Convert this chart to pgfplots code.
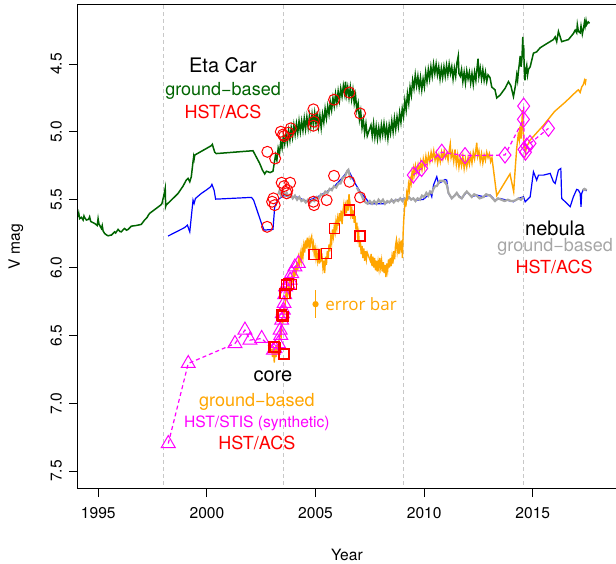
\documentclass[border=0pt]{standalone}
\usepackage{fontspec}
\setmainfont{TeX Gyre Heros}
\newfontfamily\ebfont{Open Sans}
\usepackage{pgfplots}
\pgfplotsset{compat=1.18}
\definecolor{etagreen}{HTML}{006400}
\definecolor{nebgray}{HTML}{A6A6A6}
\definecolor{periline}{HTML}{C8C8C8}
\definecolor{coreorange}{HTML}{FFA500}
\definecolor{stismag}{HTML}{FF00FF}
\definecolor{acsred}{HTML}{FF0000}
\definecolor{nebblue}{HTML}{0000FF}

\begin{document}
\begin{tikzpicture}
\begin{axis}[
  scale only axis, width=269pt, height=241.5pt,
  xmin=1994.065, xmax=2018.83, ymin=4.065, ymax=7.625,
  y dir=reverse,
  axis line style={draw=none},
  xtick={1995,2000,2005,2010,2015},
  ytick={4.5,5.0,5.5,6.0,6.5,7.0,7.5},
  xtick pos=bottom, ytick pos=left,
  tick align=outside, major tick length=4.5pt,
  tick style={black, line width=0.5pt},
  /pgf/number format/assume math mode=true,
  /pgf/number format/1000 sep={},
  tick label style={font=\fontsize{7.8}{9}\selectfont},
  xticklabel style={yshift=-1.5pt},
  yticklabel style={rotate=90, anchor=south,
    /pgf/number format/.cd, fixed, fixed zerofill, precision=1},
  clip=false,
]
% periastron passages
\addplot[periline, line width=0.6pt, dash pattern=on 2pt off 1.5pt] coordinates {(1998.0,4.065) (1998.0,7.625)};
\addplot[periline, line width=0.6pt, dash pattern=on 2pt off 1.5pt] coordinates {(2003.52,4.065) (2003.52,7.625)};
\addplot[periline, line width=0.6pt, dash pattern=on 2pt off 1.5pt] coordinates {(2009.05,4.065) (2009.05,7.625)};
\addplot[periline, line width=0.6pt, dash pattern=on 2pt off 1.5pt] coordinates {(2014.58,4.065) (2014.58,7.625)};

% Eta Car, ground-based
\addplot[etagreen, line width=0.75pt] coordinates {
(1994.07,5.626) (1994.10,5.60) (1994.14,5.64) (1994.22,5.63) (1994.30,5.650) (1994.34,5.62)
(1994.37,5.631) (1994.45,5.650) (1994.55,5.645) (1994.60,5.626) (1994.65,5.66) (1994.68,5.663)
(1994.83,5.675) (1994.95,5.69) (1994.99,5.640) (1995.03,5.68) (1995.06,5.687) (1995.10,5.70)
(1995.14,5.712) (1995.18,5.69) (1995.22,5.73) (1995.29,5.749) (1995.38,5.76) (1995.45,5.766)
(1995.55,5.762) (1995.60,5.761) (1995.75,5.737) (1995.80,5.745) (1995.91,5.719) (1996.00,5.735)
(1996.06,5.737) (1996.15,5.72) (1996.21,5.712) (1996.30,5.725) (1996.37,5.719) (1996.52,5.695)
(1996.75,5.690) (1996.98,5.682) (1997.13,5.650) (1997.25,5.63) (1997.30,5.615) (1997.36,5.601)
(1997.52,5.582) (1997.67,5.564) (1997.87,5.540) (1997.93,5.528) (1998.00,5.48) (1998.04,5.45)
(1998.08,5.417) (1998.10,5.55) (1998.12,5.540) (1998.36,5.503) (1998.67,5.454) (1998.90,5.40)
(1999.05,5.355) (1999.13,5.343) (1999.21,5.368) (1999.28,5.331) (1999.36,5.22) (1999.39,5.183)
(1999.41,5.20) (1999.44,5.171) (2000.20,5.102) (2000.25,5.092) (2000.30,5.12) (2000.36,5.15)
(2000.43,5.16) (2002.12,5.139) (2002.43,5.233) (2002.55,5.28) (2002.66,5.31) (2002.74,5.29)
(2002.91,5.30) (2003.04,5.29)
(2003.10,5.23) (2003.16,5.17) (2003.22,5.21) (2003.28,5.12) (2003.34,5.16) (2003.40,5.07)
(2003.46,5.12) (2003.52,5.03) (2003.58,5.09) (2003.64,5.02) (2003.70,5.08) (2003.76,4.99)
(2003.82,5.06) (2003.88,4.97) (2003.94,5.04) (2004.00,4.95) (2004.06,5.02) (2004.12,4.94)
(2004.18,5.01) (2004.24,4.92) (2004.30,5.00) (2004.36,4.92) (2004.42,4.99) (2004.48,4.90)
(2004.54,4.98) (2004.60,4.89) (2004.66,4.97) (2004.72,4.88) (2004.78,4.96) (2004.84,4.87)
(2004.90,4.95) (2004.96,4.86) (2005.02,4.94) (2005.08,4.85) (2005.14,4.96) (2005.20,4.88)
(2005.26,4.97) (2005.32,4.87) (2005.38,4.93) (2005.44,4.83) (2005.50,4.90) (2005.56,4.81)
(2005.62,4.87) (2005.68,4.78) (2005.74,4.84) (2005.80,4.75) (2005.86,4.81) (2005.92,4.72)
(2005.98,4.79) (2006.04,4.70) (2006.10,4.77) (2006.16,4.68) (2006.22,4.74) (2006.28,4.66)
(2006.34,4.72) (2006.38,4.63) (2006.42,4.73) (2006.48,4.67) (2006.54,4.75) (2006.60,4.67)
(2006.66,4.76) (2006.72,4.69) (2006.78,4.79) (2006.84,4.73) (2006.90,4.84) (2006.96,4.79)
(2007.02,4.91) (2007.08,4.85) (2007.14,4.97) (2007.20,4.91) (2007.26,5.01) (2007.32,4.94)
(2007.38,5.03) (2007.55,4.95) (2007.61,5.03) (2007.67,4.94) (2007.73,5.04) (2007.79,4.96)
(2007.85,5.05) (2007.91,4.97) (2007.97,5.04) (2008.03,4.95) (2008.09,5.02) (2008.15,4.94)
(2008.21,5.03) (2008.27,4.96) (2008.33,5.05) (2008.39,4.95) (2008.45,5.01) (2008.51,4.92)
(2008.57,5.00) (2008.63,4.90) (2008.69,4.98) (2008.75,4.89) (2008.81,4.96) (2008.87,4.86)
(2008.93,4.93) (2008.99,4.83) (2009.05,4.89) (2009.11,4.77) (2009.17,4.84) (2009.23,4.72)
(2009.29,4.79) (2009.35,4.67) (2009.41,4.73) (2009.47,4.62) (2009.53,4.68) (2009.59,4.58)
(2009.65,4.66) (2009.71,4.59) (2009.77,4.68) (2009.83,4.60) (2009.89,4.69) (2009.95,4.61)
(2010.01,4.67) (2010.07,4.56) (2010.13,4.63) (2010.19,4.54) (2010.25,4.61) (2010.31,4.52)
(2010.37,4.59) (2010.43,4.50) (2010.49,4.57) (2010.55,4.50) (2010.61,4.58) (2010.67,4.52)
(2010.73,4.61) (2010.79,4.53) (2010.85,4.60) (2010.91,4.52) (2010.97,4.59) (2011.03,4.51)
(2011.09,4.58) (2011.15,4.50) (2011.21,4.57) (2011.27,4.52) (2011.33,4.61) (2011.39,4.53)
(2011.45,4.59) (2011.51,4.49) (2011.57,4.44) (2011.60,4.57) (2011.66,4.59) (2011.72,4.54)
(2011.78,4.63) (2011.84,4.56) (2011.90,4.64) (2011.96,4.55) (2012.02,4.61) (2012.08,4.56)
(2012.14,4.64) (2012.20,4.57) (2012.26,4.65) (2012.32,4.56) (2012.38,4.62) (2012.44,4.52)
(2012.48,4.46) (2012.52,4.59) (2012.58,4.53) (2012.64,4.61) (2012.70,4.54) (2012.76,4.62)
(2012.82,4.56) (2012.88,4.63) (2012.94,4.58)
(2013.03,4.60) (2013.11,4.67) (2013.26,4.69) (2013.34,4.75) (2013.49,4.73) (2013.72,4.68)
(2013.88,4.63) (2013.99,4.66) (2014.11,4.74) (2014.20,4.66) (2014.26,4.58) (2014.30,4.62)
(2014.34,4.55) (2014.38,4.50) (2014.42,4.44) (2014.46,4.52) (2014.50,4.46) (2014.54,4.30)
(2014.56,4.45) (2014.58,4.36) (2014.60,4.50) (2014.62,4.58) (2014.64,4.62) (2014.68,4.54)
(2014.72,4.51) (2014.76,4.58) (2014.80,4.54) (2014.88,4.52) (2015.03,4.42) (2015.18,4.41)
(2015.34,4.38) (2015.64,4.35) (2015.95,4.32) (2016.03,4.30) (2016.10,4.335) (2016.18,4.26)
(2016.26,4.30) (2016.33,4.335) (2016.64,4.32) (2016.87,4.275) (2016.95,4.25) (2017.02,4.27)
(2017.05,4.21) (2017.10,4.26) (2017.18,4.27) (2017.22,4.22) (2017.28,4.28) (2017.33,4.24)
(2017.38,4.19) (2017.41,4.22) (2017.45,4.18) (2017.48,4.21) (2017.55,4.19) (2017.61,4.20)
};

% nebula, blue
\addplot[nebblue, line width=0.6pt] coordinates {
(1998.21,5.768) (1998.98,5.705) (1999.10,5.687) (1999.21,5.737) (1999.36,5.503) (1999.41,5.528)
(1999.47,5.491) (1999.74,5.454) (1999.97,5.429) (2000.17,5.405) (2000.23,5.387) (2000.33,5.43)
(2000.40,5.496) (2002.05,5.483) (2002.15,5.503) (2002.51,5.675) (2002.63,5.724) (2003.04,5.719)
(2003.12,5.552) (2003.27,5.50) (2003.52,5.47) (2004.13,5.48) (2004.59,5.51) (2005.21,5.47)
(2005.82,5.41) (2006.28,5.33) (2006.51,5.28) (2006.82,5.38) (2007.05,5.44) (2007.51,5.53)
(2008.12,5.53) (2008.74,5.50) (2009.35,5.49) (2009.66,5.503) (2009.96,5.498) (2010.19,5.466)
(2010.27,5.442) (2010.35,5.478) (2010.43,5.392) (2010.58,5.331) (2010.66,5.380) (2010.81,5.368)
(2010.96,5.351) (2011.04,5.356) (2011.12,5.454) (2011.27,5.491) (2011.50,5.454) (2011.73,5.491)
(2011.96,5.442) (2012.19,5.478) (2012.42,5.466) (2012.73,5.478) (2013.03,5.466) (2013.26,5.503)
(2013.49,5.491) (2013.80,5.503) (2014.11,5.515) (2014.34,5.491) (2014.57,5.478) (2014.65,5.515)
(2014.88,5.478) (2015.03,5.294) (2015.18,5.356) (2015.26,5.319) (2015.49,5.319) (2015.80,5.306)
(2015.95,5.368) (2016.03,5.380) (2016.18,5.282) (2016.29,5.270) (2016.33,5.491) (2016.49,5.515)
(2016.72,5.552) (2016.87,5.478) (2017.02,5.424) (2017.10,5.429) (2017.18,5.454) (2017.22,5.552)
(2017.25,5.454) (2017.33,5.424) (2017.48,5.434)
};

% nebula, ground-based (gray)
\addplot[nebgray, line width=1.1pt] coordinates {
(2003.29,5.46) (2003.35,5.43) (2003.41,5.47) (2003.52,5.44) (2003.60,5.47) (2003.67,5.45)
(2003.75,5.48) (2003.85,5.46) (2003.95,5.49) (2004.05,5.47) (2004.15,5.50) (2004.25,5.48)
(2004.35,5.51) (2004.45,5.50) (2004.55,5.52) (2004.65,5.50) (2004.75,5.52) (2004.85,5.50)
(2004.95,5.51) (2005.05,5.48) (2005.15,5.49) (2005.25,5.46) (2005.35,5.47) (2005.45,5.44)
(2005.55,5.45) (2005.65,5.42) (2005.75,5.43) (2005.85,5.40) (2005.95,5.41) (2006.05,5.38)
(2006.15,5.38) (2006.25,5.34) (2006.35,5.33) (2006.45,5.29) (2006.51,5.28) (2006.58,5.33)
(2006.65,5.35)
};
\addplot[nebgray, line width=1.1pt] coordinates {
(2006.90,5.41) (2007.00,5.44) (2007.10,5.46) (2007.20,5.50) (2007.30,5.52) (2007.40,5.53)
(2007.50,5.51) (2007.60,5.53) (2007.70,5.51) (2007.80,5.53) (2007.90,5.50) (2008.00,5.52)
(2008.10,5.50) (2008.20,5.53) (2008.30,5.51) (2008.40,5.52) (2008.50,5.50) (2008.60,5.52)
(2008.70,5.50) (2008.80,5.51) (2008.90,5.49) (2009.00,5.51) (2009.10,5.49) (2009.20,5.50)
(2009.30,5.48) (2009.40,5.50) (2009.50,5.49) (2009.60,5.51) (2009.70,5.49) (2009.80,5.50)
(2009.90,5.47) (2010.00,5.48) (2010.10,5.45) (2010.19,5.47) (2010.27,5.44) (2010.35,5.45)
(2010.43,5.42) (2010.50,5.40) (2010.58,5.40) (2010.73,5.36) (2010.90,5.36) (2011.04,5.39)
(2011.12,5.45) (2011.27,5.49) (2011.40,5.47) (2011.50,5.45) (2011.62,5.48) (2011.73,5.49)
(2011.85,5.46) (2011.96,5.44) (2012.08,5.46) (2012.19,5.48) (2012.30,5.46) (2012.42,5.47)
(2012.55,5.49) (2012.73,5.48) (2012.85,5.46) (2013.03,5.47) (2013.15,5.49) (2013.26,5.51)
(2013.40,5.49) (2013.55,5.50) (2013.70,5.51) (2013.85,5.50) (2014.00,5.51) (2014.11,5.51)
(2014.25,5.50) (2014.34,5.49) (2014.45,5.50) (2014.57,5.48)
};
\addplot[nebgray, line width=1.1pt] coordinates {(2017.30,5.43) (2017.38,5.42) (2017.48,5.43)};

% core, ground-based
\addplot[coreorange, line width=0.7pt] coordinates {
(2002.98,6.60) (2003.02,6.66) (2003.06,6.58) (2003.10,6.70) (2003.14,6.60) (2003.18,6.66)
(2003.22,6.57) (2003.26,6.64) (2003.30,6.55) (2003.34,6.52) (2003.38,6.46) (2003.42,6.50)
(2003.46,6.40) (2003.50,6.36) (2003.54,6.30) (2003.58,6.33) (2003.62,6.22) (2003.66,6.17)
(2003.70,6.21) (2003.74,6.13) (2003.78,6.18) (2003.82,6.10) (2003.86,6.15) (2003.90,6.06)
(2003.94,6.11) (2003.98,6.02) (2004.02,6.08) (2004.06,5.99) (2004.10,6.06) (2004.14,5.96)
(2004.18,6.02) (2004.22,5.93) (2004.26,5.97) (2004.30,5.90) (2004.34,5.95) (2004.38,5.87)
(2004.42,5.92) (2004.46,5.84) (2004.50,5.89) (2004.54,5.80) (2004.58,5.86) (2004.62,5.78)
(2004.66,5.84) (2004.70,5.80) (2004.74,5.86) (2004.78,5.79) (2004.82,5.77) (2004.86,5.85)
(2004.90,5.82) (2004.94,5.90) (2004.98,5.86) (2005.02,5.93) (2005.06,5.88) (2005.10,5.95)
(2005.14,5.90) (2005.18,5.97) (2005.22,5.86) (2005.26,5.94) (2005.30,5.92) (2005.34,6.00)
(2005.38,5.95) (2005.42,6.04) (2005.46,5.92) (2005.50,5.98) (2005.54,5.88) (2005.58,5.93)
(2005.62,5.83) (2005.66,5.88) (2005.70,5.78) (2005.74,5.82) (2005.78,5.72) (2005.82,5.77)
(2005.86,5.70) (2005.90,5.74) (2005.94,5.66) (2005.98,5.71) (2006.02,5.64) (2006.06,5.69)
(2006.10,5.60) (2006.14,5.66) (2006.18,5.58) (2006.22,5.68) (2006.26,5.59) (2006.30,5.54)
(2006.34,5.62) (2006.38,5.55) (2006.42,5.60) (2006.46,5.50) (2006.50,5.58) (2006.54,5.46)
(2006.58,5.52) (2006.62,5.60) (2006.66,5.55) (2006.70,5.64) (2006.74,5.58) (2006.78,5.67)
(2006.82,5.62) (2006.86,5.72) (2006.90,5.67) (2006.94,5.78) (2006.98,5.74) (2007.02,5.85)
(2007.06,5.80) (2007.10,5.90) (2007.14,5.84) (2007.18,5.93) (2007.22,5.86) (2007.26,5.95)
(2007.30,5.88) (2007.34,5.94) (2007.38,5.89) (2007.52,5.95) (2007.56,5.90) (2007.60,5.99)
(2007.64,5.92) (2007.68,6.00) (2007.72,5.93) (2007.76,6.02) (2007.80,5.95) (2007.84,6.03)
(2007.88,5.96) (2007.92,6.01) (2007.96,5.93) (2008.00,6.00) (2008.04,5.95) (2008.08,6.03)
(2008.12,5.96) (2008.16,6.04) (2008.20,5.98) (2008.24,6.07) (2008.28,5.97) (2008.32,6.02)
(2008.36,5.94) (2008.40,6.00) (2008.44,5.93) (2008.48,5.99) (2008.52,5.92) (2008.56,5.97)
(2008.60,5.88) (2008.64,5.94) (2008.68,5.84) (2008.72,5.80) (2008.76,5.88) (2008.80,5.83)
(2008.84,5.90) (2008.88,5.82) (2008.92,5.86) (2008.96,5.80) (2009.00,5.93) (2009.03,5.75)
(2009.06,5.65) (2009.09,5.58) (2009.12,5.50) (2009.16,5.55) (2009.20,5.45) (2009.24,5.48)
(2009.28,5.39) (2009.32,5.43) (2009.36,5.35) (2009.40,5.38) (2009.44,5.30) (2009.48,5.34)
(2009.52,5.27) (2009.56,5.31) (2009.60,5.25) (2009.66,5.30) (2009.72,5.24) (2009.78,5.29)
(2009.84,5.22) (2009.90,5.28) (2009.96,5.20) (2010.02,5.26) (2010.08,5.18) (2010.14,5.24)
(2010.20,5.17) (2010.26,5.22) (2010.32,5.15) (2010.38,5.20) (2010.44,5.14) (2010.50,5.21)
(2010.56,5.16) (2010.62,5.23) (2010.68,5.17) (2010.74,5.22) (2010.80,5.15) (2010.86,5.20)
(2010.92,5.14) (2010.98,5.19) (2011.04,5.16) (2011.10,5.21) (2011.16,5.13) (2011.20,5.09)
(2011.24,5.19) (2011.30,5.15) (2011.36,5.22) (2011.42,5.13) (2011.48,5.24) (2011.54,5.17)
(2011.60,5.26) (2011.66,5.19) (2011.72,5.25) (2011.78,5.18) (2011.84,5.27) (2011.90,5.20)
(2011.96,5.26) (2012.02,5.19) (2012.08,5.24) (2012.14,5.17) (2012.20,5.23) (2012.26,5.15)
(2012.32,5.20) (2012.38,5.13) (2012.42,5.08) (2012.46,5.18) (2012.52,5.14) (2012.58,5.22)
(2012.64,5.16) (2012.70,5.23) (2012.76,5.17) (2012.82,5.21) (2012.88,5.15) (2012.94,5.19)
(2013.00,5.16) (2013.06,5.22) (2013.12,5.19) (2013.34,5.47) (2013.95,5.31) (2014.12,5.44)
(2014.20,5.25) (2014.26,5.12) (2014.33,5.02) (2014.38,5.06) (2014.41,4.96) (2014.46,5.05)
(2014.50,4.92) (2014.53,4.84) (2014.56,5.00) (2014.60,5.12) (2014.63,5.08) (2014.66,5.16)
(2014.70,5.12) (2014.75,5.10) (2014.88,5.06) (2015.50,4.95) (2016.00,4.85) (2016.50,4.78)
(2017.02,4.70) (2017.10,4.69) (2017.18,4.71) (2017.25,4.67) (2017.33,4.65) (2017.38,4.62)
(2017.42,4.64) (2017.45,4.61)
};

% core error bar sample
\addplot[coreorange, line width=0.9pt, mark=*, mark size=1.1pt,
  error bars/.cd, y dir=both, y explicit, error bar style={line width=0.9pt}, error mark=none]
  coordinates {(2005.0,6.27) +- (0,0.104)};

% core, HST/STIS synthetic
\addplot[stismag, line width=0.6pt, dash pattern=on 2pt off 1.5pt, mark=triangle,
  mark size=4pt, mark options={solid, line width=0.5pt}] coordinates {
(1998.22,7.297) (1999.14,6.707) (2001.29,6.560) (2001.75,6.461) (2001.98,6.535) (2002.52,6.523)
(2003.06,6.609) (2003.13,6.597) (2003.29,6.560) (2003.37,6.461) (2003.40,6.50) (2003.44,6.388)
(2003.47,6.339) (2003.52,6.314) (2003.55,6.265) (2003.58,6.20) (2003.62,6.142) (2003.75,6.130)
(2003.83,6.093) (2003.90,6.044) (2004.05,5.995) (2004.21,5.970)
};

% core, HST/ACS
\addplot[only marks, acsred, mark=square, mark size=2.5pt, mark options={draw=acsred, line width=0.8pt}] coordinates {
(2003.10,6.584) (2003.15,6.59) (2003.44,6.351) (2003.50,6.36) (2003.55,6.638) (2003.60,6.19)
(2003.67,6.13) (2003.75,6.117) (2003.90,6.125) (2004.93,5.903) (2005.51,5.896) (2005.87,5.712)
(2006.56,5.576) (2007.05,5.768)
};

% Eta Car, HST/ACS
\addplot[only marks, acsred, mark=o, mark size=2.75pt, mark options={line width=0.5pt}] coordinates {
(2002.78,5.147) (2003.14,5.196) (2003.40,4.999) (2003.50,5.02) (2003.55,5.031) (2003.75,5.006)
(2003.86,4.974) (2004.90,4.834) (2004.93,4.925) (2004.90,4.955) (2005.85,4.763) (2006.56,4.710)
(2007.05,4.864)
};

% nebula, HST/ACS
\addplot[only marks, acsred, mark=o, mark size=2.75pt, mark options={line width=0.5pt}] coordinates {
(2002.77,5.70) (2003.00,5.515) (2003.06,5.49) (2003.12,5.54) (2003.44,5.375) (2003.55,5.40)
(2003.67,5.453) (2003.70,5.43) (2003.83,5.375) (2004.90,5.515) (2004.93,5.540) (2005.51,5.503)
(2005.85,5.324) (2006.56,5.368) (2007.05,5.483)
};

% core, HST/STIS after 2009
\addplot[stismag, line width=0.6pt, dash pattern=on 2pt off 1.5pt, mark=diamond,
  mark size=4pt, mark options={solid, line width=0.5pt}] coordinates {
(2009.50,5.318) (2009.88,5.27) (2010.81,5.150) (2011.88,5.175) (2013.72,5.171) (2014.57,4.908)
(2014.58,4.810) (2014.60,5.13) (2014.66,5.15) (2014.72,5.105) (2014.87,5.085) (2015.72,4.974)
};

% labels
\node[font=\fontsize{10}{12}\selectfont] at (axis cs:2000.74,4.507) {Eta Car};
\node[font=\fontsize{9}{11}\selectfont, text=etagreen] at (axis cs:2000.74,4.70) {ground−based};
\node[font=\fontsize{9}{11}\selectfont, text=acsred] at (axis cs:2000.74,4.854) {HST/ACS};
\node[font=\fontsize{10}{12}\selectfont] at (axis cs:2016.03,5.709) {nebula};
\node[font=\fontsize{9}{11}\selectfont, text=nebgray] at (axis cs:2016.03,5.85) {ground−based};
\node[font=\fontsize{9}{11}\selectfont, text=acsred] at (axis cs:2015.98,5.997) {HST/ACS};
\node[font=\fontsize{10}{12}\selectfont] at (axis cs:2003.04,6.80) {core};
\node[font=\fontsize{9}{11}\selectfont, text=coreorange] at (axis cs:2002.30,6.99) {ground−based};
\node[font=\fontsize{7.8}{9}\selectfont, text=stismag] at (axis cs:2002.30,7.147) {HST/STIS (synthetic)};
\node[font=\fontsize{9}{11}\selectfont, text=acsred] at (axis cs:2002.30,7.295) {HST/ACS};
\node[font=\ebfont\fontsize{8.5}{10}\selectfont, text=coreorange, anchor=west, inner sep=0pt] at (axis cs:2005.43,6.27) {error bar};
\end{axis}
\draw[line width=0.5pt] (current axis.north east) -- (current axis.north west)
  -- (current axis.south west) -- (current axis.south east);
\node[font=\fontsize{7.8}{9}\selectfont] at ([yshift=-33.5pt]current axis.south) {Year};
\node[font=\fontsize{7.8}{9}\selectfont, rotate=90] at ([xshift=-31pt]current axis.west) {V mag};
\pgfresetboundingbox
\useasboundingbox (-39pt,-37.5pt) rectangle (269pt,244pt);
\end{tikzpicture}
\end{document}
